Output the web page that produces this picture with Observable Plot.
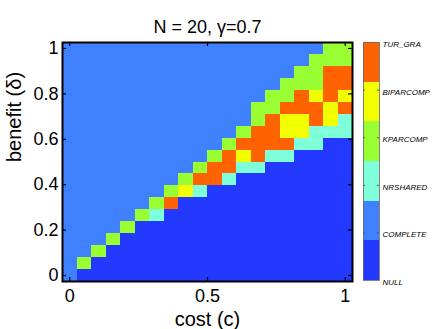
<!DOCTYPE html>
<html>
<head>
<meta charset="utf-8">
<script src="https://cdn.jsdelivr.net/npm/d3@7"></script>
<script src="https://cdn.jsdelivr.net/npm/@observablehq/plot@0.6"></script>
<style>
  html, body { margin: 0; padding: 0; background: white; }
  #wrap { position: relative; width: 436px; height: 329px; }
  #wrap svg { position: absolute; left: 0; top: 0; }
</style>
</head>
<body>
<div id="wrap"></div>
<script>
// ---- data ----
const titleText = "N = 20, γ=0.7";
const xLabel = "cost (c)";
const yLabel = "benefit (δ)";
const categories = ["NULL", "COMPLETE", "NRSHARED", "KPARCOMP", "BIPARCOMP", "TUR_GRA"];
const categoryColors = ["#2339ff", "#3f80ff", "#7fffd9", "#99ff33", "#f2ff00", "#ff6200"];
const codes = {N: "NULL", C: "COMPLETE", R: "NRSHARED", K: "KPARCOMP", B: "BIPARCOMP", T: "TUR_GRA"};
const xTicks = [0, 0.5, 1];
const xTickLabels = ["0", "0.5", "1"];
const yTicks = [0, 0.2, 0.4, 0.6, 0.8, 1];
const yTickLabels = ["0", "0.2", "0.4", "0.6", "0.8", "1"];
const gridSize = 20; // N = 20 grid points on [0, 1] for each axis
// rows from benefit = 0 (first) to benefit = 1 (last); columns cost = 0 .. 1
const gridRows = [
  "CNNNNNNNNNNNNNNNNNNN",
  "CKNNNNNNNNNNNNNNNNNN",
  "CCKNNNNNNNNNNNNNNNNN",
  "CCCKNNNNNNNNNNNNNNNN",
  "CCCCKNNNNNNNNNNNNNNN",
  "CCCCCKRNNNNNNNNNNNNN",
  "CCCCCCKTNNNNNNNNNNNN",
  "CCCCCCCKBRNNNNNNNNNN",
  "CCCCCCCCKTTRNNNNNNNN",
  "CCCCCCCCCKTTRRNNNNNN",
  "CCCCCCCCCCKTBTRRNNNN",
  "CCCCCCCCCCCKTTTTRRNN",
  "CCCCCCCCCCCCKTTBBRRR",
  "CCCCCCCCCCCCCKTBBTBR",
  "CCCCCCCCCCCCCKKTTTBT",
  "CCCCCCCCCCCCCCKKTBTB",
  "CCCCCCCCCCCCCCCKKKTT",
  "CCCCCCCCCCCCCCCCKKTT",
  "CCCCCCCCCCCCCCCCCKKK",
  "CCCCCCCCCCCCCCCCCCKK"
];

// ---- build table ----
const step = 1 / (gridSize - 1);
const cells = [];
gridRows.forEach((row, j) => {
  [...row].forEach((ch, i) => {
    cells.push({cost: i * step, benefit: j * step, type: codes[ch]});
  });
});

const W = 436, H = 329;
const mL = 62, mR = 84, mT = 42, mB = 48;
const innerW = W - mL - mR, innerH = H - mT - mB;
const font = "'Liberation Sans', Arial, Helvetica, sans-serif";
const half = step / 2;
const fmtX = (d) => xTickLabels[xTicks.findIndex(t => Math.abs(t - d) < 1e-9)];
const fmtY = (d) => yTickLabels[yTicks.findIndex(t => Math.abs(t - d) < 1e-9)];

const main = Plot.plot({
  width: W, height: H,
  marginLeft: mL, marginRight: mR, marginTop: mT, marginBottom: mB,
  style: {fontFamily: font, background: "white", overflow: "visible"},
  x: {domain: [-half, 1 + half]},
  y: {domain: [-half, 1 + half]},
  color: {domain: categories, range: categoryColors},
  marks: [
    Plot.rect(cells, {
      x1: d => d.cost - half, x2: d => d.cost + half,
      y1: d => d.benefit - half, y2: d => d.benefit + half,
      fill: "type", shapeRendering: "crispEdges"
    }),
    Plot.axisX({ticks: xTicks, tickFormat: fmtX, tickSize: 0, tickPadding: 8, fontSize: 18, label: null, fill: "black"}),
    Plot.axisY({ticks: yTicks, tickFormat: fmtY, tickSize: 0, tickPadding: 4, fontSize: 18, label: null, fill: "black"}),
    Plot.tickX(xTicks, {x: d => d, insetTop: innerH - 4, stroke: "black", strokeWidth: 1.2}),
    Plot.tickX(xTicks, {x: d => d, insetBottom: innerH - 4, stroke: "black", strokeWidth: 1.2}),
    Plot.tickY(yTicks, {y: d => d, insetRight: innerW - 4, stroke: "black", strokeWidth: 1.2}),
    Plot.tickY(yTicks, {y: d => d, insetLeft: innerW - 4, stroke: "black", strokeWidth: 1.2}),
    Plot.frame({stroke: "black", strokeWidth: 2}),
    Plot.text([titleText], {text: d => d, frameAnchor: "top", dy: -22, fontSize: 18}),
    Plot.text([xLabel], {text: d => d, frameAnchor: "bottom", dy: 38, fontSize: 20, lineAnchor: "middle"}),
    Plot.text([yLabel], {text: d => d, frameAnchor: "left", dx: -48, rotate: -90, fontSize: 20})
  ]
});

// ---- colorbar (overlay) ----
const cbL = 363, cbR = 379, cbT = 42, cbB = 280;
const nCat = categories.length;
const bar = categories.map((c, k) => ({type: c, lo: 1 + k * (nCat - 1) / nCat, hi: 1 + (k + 1) * (nCat - 1) / nCat, tick: k + 1}));
const cbar = Plot.plot({
  width: W, height: H,
  marginLeft: cbL, marginRight: W - cbR, marginTop: cbT, marginBottom: H - cbB,
  style: {fontFamily: font, background: "transparent", overflow: "visible"},
  x: {domain: [0, 1], axis: null},
  y: {domain: [1, nCat], axis: null},
  color: {domain: categories, range: categoryColors},
  marks: [
    Plot.rect(bar, {x1: 0, x2: 1, y1: "lo", y2: "hi", fill: "type", shapeRendering: "crispEdges"}),
    Plot.tickY(bar.slice(1, -1), {y: "tick", insetRight: (cbR - cbL) - 2, stroke: "#444", strokeWidth: 0.8}),
    Plot.tickY(bar.slice(1, -1), {y: "tick", insetLeft: (cbR - cbL) - 2, stroke: "#444", strokeWidth: 0.8}),
    Plot.frame({stroke: "#666", strokeWidth: 0.8}),
    Plot.text(bar, {x: 1, y: "tick", text: "type", textAnchor: "start", dx: 3, dy: 2, fontSize: 8, fontStyle: "italic", fill: "black"})
  ]
});

const wrap = document.getElementById("wrap");
wrap.appendChild(main);
wrap.appendChild(cbar);
</script>
</body>
</html>
